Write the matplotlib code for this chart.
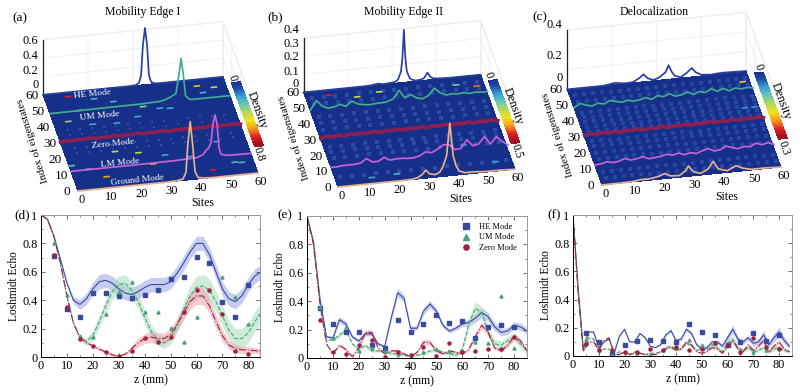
import numpy as np
import matplotlib
matplotlib.use('Agg')
import matplotlib.pyplot as plt
from matplotlib.colors import LinearSegmentedColormap
from mpl_toolkits.mplot3d import proj3d

plt.rcParams['font.family'] = ['Liberation Serif', 'DejaVu Serif']
plt.rcParams['grid.color'] = '#eeeeee'
plt.rcParams['grid.linewidth'] = 0.6

# ---- top row: density of the five modes along the sites
sites = np.arange(0, 61, 2)

he_a_s = [0, 29, 31, 32, 32.7, 33.3, 34, 34.7, 35.3, 36, 37, 39, 60]
he_a = [0, 0, 0.005, 0.03, 0.12, 0.5, 0.72, 0.5, 0.12, 0.03, 0.005, 0, 0]
um_a_s = [0, 10, 20, 30, 36, 38, 40, 42, 43, 43.7, 44.4, 45.2, 46.5, 48, 60]
um_a = [0.005, 0.007, 0.01, 0.012, 0.02, 0.03, 0.06, 0.1, 0.34, 0.54, 0.34, 0.06, 0.01, 0.005, 0.005]
lm_a_s = [0, 20, 35, 42, 44, 45, 46, 46.7, 47.3, 48, 48.7, 49.3, 50, 52, 60]
lm_a = [0.005, 0.005, 0.01, 0.02, 0.05, 0.1, 0.13, 0.2, 0.42, 0.54, 0.42, 0.12, 0.03, 0.01, 0.005]
gr_a_s = [0, 30, 33, 35, 36, 36.6, 37.4, 38.2, 39, 40, 42, 45, 60]
gr_a = [0, 0, 0.005, 0.02, 0.1, 0.45, 0.74, 0.45, 0.1, 0.02, 0.005, 0, 0]
zero_a = [0.01, 0.02, 0.01, 0.02, 0.015, 0.025, 0.01, 0.02, 0.015, 0.025, 0.01, 0.02, 0.015, 0.025, 0.01, 0.02,
          0.015, 0.025, 0.01, 0.02, 0.015, 0.025, 0.01, 0.02, 0.015, 0.025, 0.01, 0.02, 0.015, 0.025, 0.01]

he_b_s = [0, 20, 23, 25, 27, 29, 31, 32, 33, 33.5, 34, 34.5, 35, 36, 37, 38, 40, 41, 42, 43, 44, 46, 50, 60]
he_b = [0, 0, 0.002, 0.01, 0.002, 0.005, 0.01, 0.025, 0.08, 0.18, 0.39, 0.18, 0.08, 0.025, 0.012, 0.005,
        0.008, 0.02, 0.055, 0.02, 0.008, 0.003, 0, 0]
um_b = [0.01, 0.075, 0.03, 0.01, 0.015, 0.03, 0.01, 0.045, 0.02, 0.01, 0.005, 0.01, 0.01, 0.015, 0.03, 0.09,
        0.03, 0.05, 0.02, 0.01, 0.03, 0.08, 0.04, 0.02, 0.025, 0.02, 0.025, 0.015, 0.02, 0.015, 0.015]
zero_b = [0.01, 0.02, 0.012, 0.022, 0.01, 0.02, 0.012, 0.02, 0.012, 0.022, 0.01, 0.02, 0.012, 0.022, 0.01, 0.02,
          0.012, 0.022, 0.01, 0.02, 0.012, 0.022, 0.01, 0.02, 0.012, 0.022, 0.01, 0.02, 0.012, 0.02, 0.01]
lm_b = [0.005, 0.005, 0.01, 0.01, 0.01, 0.015, 0.045, 0.015, 0.015, 0.04, 0.015, 0.02, 0.02, 0.015, 0.015, 0.025,
        0.05, 0.04, 0.06, 0.09, 0.085, 0.045, 0.05, 0.11, 0.06, 0.07, 0.12, 0.06, 0.11, 0.07, 0.04]
gr_b_s = [0, 22, 25, 27, 28.5, 29.8, 31, 33, 34.5, 35.5, 36.8, 37.9, 39, 40, 41, 43, 46, 50, 55, 60]
gr_b = [0, 0, 0.002, 0.01, 0.03, 0.06, 0.03, 0.02, 0.035, 0.07, 0.15, 0.39, 0.15, 0.07, 0.03, 0.012, 0.012, 0.005, 0.005, 0]

he_c_s = [0, 12, 14, 16, 18, 20, 22, 24, 25.6, 27, 29, 31, 33, 34, 35, 36, 38, 40, 41.8, 43, 45, 48, 52, 60]
he_c = [0, 0, 0.005, 0.012, 0.005, 0.002, 0.005, 0.025, 0.05, 0.02, 0.005, 0.02, 0.05, 0.095, 0.05, 0.02, 0.005,
        0.03, 0.06, 0.03, 0.008, 0.003, 0.008, 0.003]
um_c = [0.005, 0.03, 0.015, 0.005, 0.02, 0.01, 0.03, 0.02, 0.01, 0.02, 0.01, 0.015, 0.025, 0.01, 0.03, 0.02,
        0.035, 0.015, 0.02, 0.035, 0.015, 0.03, 0.02, 0.04, 0.02, 0.035, 0.015, 0.03, 0.02, 0.025, 0.02]
zero_c = [0.012, 0.018, 0.01, 0.02, 0.012, 0.02, 0.01, 0.018, 0.012, 0.02, 0.01, 0.018, 0.012, 0.02, 0.01, 0.018,
          0.012, 0.02, 0.01, 0.018, 0.012, 0.02, 0.01, 0.018, 0.012, 0.02, 0.01, 0.018, 0.012, 0.02, 0.01]
lm_c = [0.005, 0.01, 0.02, 0.01, 0.015, 0.03, 0.015, 0.02, 0.03, 0.012, 0.015, 0.02, 0.03, 0.02, 0.03, 0.015,
        0.025, 0.015, 0.03, 0.04, 0.02, 0.025, 0.045, 0.03, 0.02, 0.03, 0.025, 0.045, 0.03, 0.04, 0.025]
gr_c_s = [0, 10, 13, 16, 19, 21, 23, 26, 28, 29, 30.5, 33, 35.5, 37.3, 39, 42, 45, 47, 50, 55, 60]
gr_c = [0, 0.002, 0.01, 0.01, 0.02, 0.035, 0.015, 0.012, 0.04, 0.07, 0.03, 0.012, 0.035, 0.085, 0.03, 0.012,
        0.04, 0.02, 0.005, 0.005, 0]

# bright spots on the floor: site, index, density
spots_a = [(7.9, 57.4, 0.7), (16, 54.5, 0.25), (21.8, 51.7, 0.25), (50.5, 56, 0.55), (51.7, 51.7, 0.25),
           (55.9, 54.3, 0.42), (9.5, 48.4, 0.35), (30.8, 46.9, 0.35), (36, 44.9, 0.22), (39.3, 44.3, 0.22),
           (5, 42.4, 0.35), (12.5, 39.3, 0.22), (20.4, 38.5, 0.22), (27.9, 41.2, 0.22), (16.5, 21.5, 0.42),
           (23.9, 19.4, 0.42), (32.2, 16.4, 0.22), (40, 14, 0.22), (50.4, 21.4, 0.22), (0.9, 15.6, 0.3),
           (5.9, 12.6, 0.22), (27.4, 11.8, 0.55), (53.8, 7.9, 0.25), (56, 7.4, 0.25), (45.9, 4.5, 0.7),
           (10.9, 6.9, 0.6)]
spots_b = [(7.9, 56.8, 0.45), (17, 54, 0.27), (24.8, 55.7, 0.27), (50.8, 55.2, 0.2), (57.3, 53.3, 0.4),
           (20.8, 4.4, 0.15), (12.2, 3.7, 0.13), (54.5, 5.8, 0.13), (46, 18, 0.12)]
spots_c = [(57.7, 54, 0.2), (55.3, 38, 0.07), (58.5, 38, 0.07)]

faint_sites_a = [4, 8, 12, 16, 20, 24, 28, 32, 36, 40, 44, 48, 52, 56]
faint_rows_a = [23, 26, 34, 37]
faint_sites_b = [2, 6, 10, 14, 18, 22, 26, 30, 34, 38, 42, 46, 50, 54, 58]
faint_rows_b = [6, 18, 22, 25, 36, 40, 44, 52, 56]
faint_sites_c = [2, 5, 8, 11, 14, 17, 20, 23, 26, 29, 32, 35, 38, 41, 44, 47, 50, 53, 56, 59]
faint_rows_c = [4, 8, 16, 20, 24, 27, 33, 36, 39, 42, 45, 52, 56]

# ---- bottom row: Loschmidt echo
z_d = np.arange(0, 85.1, 2.5)
he_d = [1, 0.97, 0.85, 0.69, 0.52, 0.40, 0.37, 0.41, 0.48, 0.53, 0.54, 0.52, 0.48, 0.45, 0.44, 0.46, 0.49, 0.51,
        0.51, 0.51, 0.53, 0.59, 0.66, 0.74, 0.80, 0.80, 0.72, 0.60, 0.48, 0.41, 0.39, 0.43, 0.51, 0.57, 0.60]
um_d = [1, 0.97, 0.85, 0.66, 0.43, 0.24, 0.13, 0.11, 0.15, 0.25, 0.36, 0.46, 0.51, 0.52, 0.47, 0.39, 0.28, 0.18,
        0.12, 0.10, 0.13, 0.22, 0.33, 0.43, 0.49, 0.50, 0.47, 0.39, 0.29, 0.19, 0.13, 0.13, 0.17, 0.25, 0.31]
zero_d = [1, 0.97, 0.85, 0.66, 0.43, 0.24, 0.14, 0.10, 0.08, 0.055, 0.035, 0.015, 0.005, 0.02, 0.06, 0.10, 0.13,
          0.14, 0.13, 0.13, 0.16, 0.23, 0.31, 0.39, 0.43, 0.43, 0.36, 0.25, 0.15, 0.085, 0.06, 0.05, 0.05, 0.045, 0.04]

z_e = np.arange(0, 85.1, 2.5)
he_e = [1, 0.82, 0.42, 0.15, 0.14, 0.27, 0.24, 0.15, 0.12, 0.17, 0.17, 0.10, 0.08, 0.28, 0.46, 0.42, 0.21, 0.21,
        0.33, 0.38, 0.33, 0.23, 0.19, 0.21, 0.24, 0.25, 0.28, 0.32, 0.29, 0.22, 0.18, 0.19, 0.23, 0.22, 0.19]
um_e = [1, 0.80, 0.40, 0.12, 0.13, 0.16, 0.20, 0.10, 0.06, 0.09, 0.05, 0.05, 0.05, 0.03, 0.03, 0.02, 0.01, 0.02,
        0.03, 0.05, 0.06, 0.04, 0.03, 0.02, 0.06, 0.24, 0.35, 0.32, 0.18, 0.10, 0.09, 0.12, 0.15, 0.10, 0.05]
zero_e = [1, 0.80, 0.38, 0.10, 0.03, 0.09, 0.06, 0.01, 0.07, 0.18, 0.18, 0.07, 0.03, 0.05, 0.05, 0.03, 0.01, 0.04,
          0.11, 0.11, 0.05, 0.03, 0.05, 0.04, 0.03, 0.06, 0.15, 0.23, 0.18, 0.07, 0.05, 0.09, 0.15, 0.12, 0.05]

z_f = np.arange(0, 84.1, 2)
he_f = [1, 0.48, 0.05, 0.17, 0.17, 0.06, 0.10, 0.12, 0.02, 0.14, 0.19, 0.10, 0.10, 0.16, 0.13, 0.07, 0.06, 0.08,
        0.15, 0.18, 0.11, 0.12, 0.19, 0.16, 0.08, 0.05, 0.06, 0.10, 0.10, 0.07, 0.13, 0.19, 0.12, 0.10, 0.13, 0.09,
        0.10, 0.15, 0.08, 0.13, 0.17, 0.11, 0.07]
um_f = [1, 0.45, 0.04, 0.13, 0.12, 0.04, 0.05, 0.05, 0.01, 0.03, 0.02, 0.01, 0.03, 0.02, 0.01, 0.02, 0.02, 0.03,
        0.06, 0.07, 0.05, 0.05, 0.09, 0.07, 0.04, 0.05, 0.04, 0.08, 0.06, 0.03, 0.09, 0.12, 0.06, 0.04, 0.06, 0.03,
        0.04, 0.06, 0.03, 0.05, 0.06, 0.04, 0.03]
zero_f = [1, 0.45, 0.03, 0.10, 0.10, 0.04, 0.11, 0.13, 0.01, 0.01, 0.03, 0.01, 0.02, 0.02, 0.01, 0.01, 0.01, 0.03,
          0.05, 0.06, 0.04, 0.05, 0.10, 0.08, 0.03, 0.02, 0.03, 0.06, 0.05, 0.02, 0.07, 0.11, 0.05, 0.03, 0.08, 0.04,
          0.07, 0.11, 0.03, 0.07, 0.10, 0.05, 0.03]

# half width of the shaded bands
he_band_d = [0, 0, 0, 0, 0.01, 0.025, 0.035, 0.04, 0.045, 0.05, 0.05, 0.05, 0.05, 0.05, 0.05, 0.05, 0.05, 0.05,
             0.05, 0.05, 0.05, 0.05, 0.05, 0.05, 0.05, 0.05, 0.05, 0.05, 0.05, 0.05, 0.05, 0.05, 0.05, 0.05, 0.05]
um_band_d = [0, 0, 0, 0, 0, 0.005, 0.015, 0.025, 0.035, 0.04, 0.05, 0.055, 0.06, 0.06, 0.06, 0.05, 0.05, 0.05,
             0.04, 0.04, 0.04, 0.05, 0.06, 0.07, 0.08, 0.08, 0.08, 0.07, 0.07, 0.07, 0.07, 0.07, 0.07, 0.07, 0.07]
zero_band_d = [0, 0, 0, 0, 0, 0.005, 0.01, 0.01, 0.01, 0.01, 0.01, 0.01, 0.005, 0.01, 0.02, 0.03, 0.035, 0.04,
               0.04, 0.04, 0.04, 0.045, 0.05, 0.055, 0.06, 0.06, 0.05, 0.045, 0.04, 0.03, 0.03, 0.025, 0.025, 0.02, 0.02]
he_band_e = [0, 0, 0.005, 0.01, 0.015, 0.02, 0.02, 0.015, 0.012, 0.015, 0.015, 0.01, 0.01, 0.02, 0.03, 0.025, 0.015,
             0.015, 0.025, 0.025, 0.02, 0.015, 0.015, 0.015, 0.02, 0.025, 0.03, 0.035, 0.03, 0.03, 0.025, 0.025, 0.025, 0.025, 0.02]
um_band_e = [0, 0, 0, 0.005, 0.01, 0.015, 0.015, 0.01, 0.01, 0.01, 0.01, 0.01, 0.01, 0.008, 0.008, 0.008, 0.008, 0.01,
             0.01, 0.012, 0.012, 0.012, 0.012, 0.015, 0.02, 0.035, 0.045, 0.045, 0.035, 0.03, 0.03, 0.03, 0.03, 0.03, 0.025]
zero_band_e = [0, 0, 0, 0.005, 0.008, 0.012, 0.01, 0.008, 0.012, 0.02, 0.02, 0.012, 0.008, 0.01, 0.01, 0.008, 0.006, 0.01,
               0.02, 0.02, 0.01, 0.008, 0.01, 0.01, 0.008, 0.012, 0.02, 0.025, 0.02, 0.012, 0.012, 0.015, 0.02, 0.02, 0.012]
he_band_f = [0, 0, 0.002, 0.004, 0.004, 0.003, 0.004, 0.004, 0.003, 0.005, 0.006, 0.005, 0.005, 0.006, 0.006, 0.005,
             0.005, 0.006, 0.01, 0.012, 0.01, 0.012, 0.015, 0.012, 0.01, 0.008, 0.01, 0.015, 0.015, 0.015, 0.025, 0.03,
             0.02, 0.015, 0.02, 0.02, 0.025, 0.03, 0.02, 0.03, 0.035, 0.025, 0.015]
um_band_f = [0, 0, 0.002, 0.005, 0.005, 0.003, 0.003, 0.003, 0.002, 0.003, 0.003, 0.002, 0.003, 0.003, 0.002, 0.003,
             0.003, 0.004, 0.006, 0.008, 0.006, 0.008, 0.012, 0.01, 0.008, 0.008, 0.008, 0.012, 0.012, 0.01, 0.02, 0.025,
             0.015, 0.012, 0.015, 0.012, 0.012, 0.015, 0.012, 0.015, 0.015, 0.012, 0.01]
zero_band_f = [0, 0, 0.002, 0.004, 0.004, 0.003, 0.004, 0.004, 0.002, 0.002, 0.002, 0.002, 0.002, 0.002, 0.002, 0.002,
               0.002, 0.004, 0.005, 0.006, 0.005, 0.006, 0.01, 0.008, 0.005, 0.005, 0.005, 0.008, 0.008, 0.006, 0.012, 0.015,
               0.01, 0.008, 0.012, 0.01, 0.012, 0.015, 0.008, 0.012, 0.015, 0.01, 0.008]

z_pts = [5, 10, 15, 20, 25, 30, 35, 40, 45, 50, 55, 60, 65, 70, 75, 80]
he_pts_d = [0.71, 0.34, 0.285, 0.45, 0.45, 0.43, 0.415, 0.435, 0.47, 0.55, 0.565, 0.705, 0.66, 0.385, 0.28, 0.51]
um_pts_d = [0.80, 0.44, 0.15, 0.14, 0.30, 0.46, 0.53, 0.32, 0.32, 0.205, 0.105, 0.28, 0.47, 0.56, 0.42, 0.235]
zero_pts_d = [0.72, 0.355, 0.125, 0.08, 0.035, 0.005, 0.04, 0.135, 0.105, 0.14, 0.32, 0.475, 0.47, 0.305, 0.04, 0.02]
he_pts_e = [0.35, 0.24, 0.18, 0.185, 0.09, 0.07, 0.27, 0.185, 0.24, 0.305, 0.245, 0.26, 0.14, 0.22, 0.23, 0.215]
um_pts_e = [0.36, 0.14, 0.22, 0.05, 0.07, 0.05, 0.03, 0.01, 0.04, 0.06, 0.05, 0.05, 0.11, 0.105, 0.44, 0.07]
zero_pts_e = [0.27, 0.04, 0.03, 0.09, 0.125, 0.01, 0.045, 0.02, 0.075, 0.015, 0.105, 0.04, 0.05, 0.065, 0.065, 0.15]
he_pts_f = [0.164, 0.10, 0.012, 0.08, 0.105, 0.11, 0.105, 0.097, 0.23, 0.168, 0.15, 0.08, 0.097, 0.164, 0.105, 0.147]
um_pts_f = [0.12, 0.04, 0.01, 0.03, 0.02, 0.01, 0.04, 0.06, 0.11, 0.08, 0.09, 0.09, 0.03, 0.03, 0.04, 0.06]
zero_pts_f = [0.085, 0.04, 0.045, 0.025, 0.025, 0.05, 0.04, 0.065, 0.045, 0.05, 0.09, 0.08, 0.03, 0.13, 0.065, 0.05]

mode_names = ['HE Mode', 'UM Mode', 'Zero Mode', 'LM Mode', 'Ground Mode']
mode_rows = [60, 48, 30, 12, 0]
tick_vals = [0, 10, 20, 30, 40, 50, 60]

density = LinearSegmentedColormap.from_list(
    'density', ['#182a84', '#1f4fa8', '#3aa0d8', '#6cc8b0', '#b8d850', '#f5e020', '#f59a20', '#e02020', '#a01020'])
line_cols = ['#2b3f9e', '#3fae8c', '#8e1f4e', '#c860d8', '#e8b08c']
echo_cols = ['#3a4a9f', '#4da078', '#a02040']
band_cols = ['#9aa5e6', '#a5dcb8', '#f0a0a8']

fig = plt.figure(figsize=(8, 3.92), dpi=100)


def place_floor(ax, fl, fr):
    # move and scale the 3d axes so the front edge of the floor lands on the given pixels
    fig.canvas.draw()
    M = ax.get_proj()
    a = ax.transData.transform(proj3d.proj_transform(0, 0, 0, M)[:2])
    b = ax.transData.transform(proj3d.proj_transform(60, 0, 0, M)[:2])
    box = ax.get_position()
    x0, y0 = box.x0 * 800, box.y0 * 392
    w, h = box.width * 800, box.height * 392
    scale = np.hypot(fr[0] - fl[0], fr[1] - fl[1]) / np.hypot(*(b - a))
    fx, fy = (a[0] - x0) / w, (a[1] - y0) / h
    nw, nh = w * scale, h * scale
    nx, ny = fl[0] - fx * nw, (392 - fl[1]) - fy * nh
    ax.set_position([nx / 800, ny / 392, nw / 800, nh / 392])
    fig.canvas.draw()


def label3d(ax, x, y, z, s, **kw):
    # real text at the spot where a 3d point ends up on the figure
    p = ax.transData.transform(proj3d.proj_transform(x, y, z, ax.get_proj())[:2])
    kw.setdefault('ha', 'center')
    kw.setdefault('va', 'center')
    fig.text(p[0] / 800, p[1] / 392, s, rotation_mode='anchor', **kw)


def top_panel(left, curves, spots, faint, faint_col, vmax, zmax, ztop_ratio, zlabels, zlabel_pos, fl, fr,
              bar, bar_lbl, bar_txt):
    ax = fig.add_axes([left, 0.3, 0.3, 0.3 * 800 / 392], projection='3d', proj_type='ortho')
    ax.computed_zorder = False
    ax.set_facecolor('none')
    ax.view_init(elev=31.6, azim=-100.8)
    ax.set_xlim(0, 60, view_margin=0)
    ax.set_ylim(0, 60, view_margin=0)
    ax.set_zlim(0, zmax, view_margin=0)
    ax.set_box_aspect((1, 1.02, ztop_ratio))
    ax.set_xticks([0, 15, 30, 45, 60])
    ax.set_yticks([0, 15, 30, 45, 60])
    ax.set_zticks(np.linspace(0, zmax, 4))
    ax.set_xticklabels([])
    ax.set_yticklabels([])
    ax.set_zticklabels([])
    for axis in (ax.xaxis, ax.yaxis, ax.zaxis):
        axis.set_pane_color((1, 1, 1, 1))
        axis.pane.set_edgecolor('#eeeeee')
        axis.line.set_color((0, 0, 0, 0))
        axis.set_tick_params(length=0)
        axis._axinfo['tick']['inward_factor'] = 0
        axis._axinfo['tick']['outward_factor'] = 0

    X, Y = np.meshgrid([0, 60], [0, 60])
    ax.plot_surface(X, Y, np.zeros_like(X, dtype=float), color='#16308a', shade=False, zorder=1,
                    linewidth=0, antialiased=False)

    fs, fr_ = np.meshgrid(faint[0], faint[1])
    ax.scatter(fs.ravel(), fr_.ravel(), 0, marker='s', s=faint[2], color=faint_col, linewidths=0,
               depthshade=False, zorder=2)

    for s, r, v in spots:
        ax.plot([s - 0.9, s + 0.9], [r, r], [0, 0], color=density(v / vmax), lw=1.2, solid_capstyle='round', zorder=3)

    for (cs, cv), row, col in zip(curves, mode_rows, line_cols):
        lw = 2.6 if col == line_cols[2] else 1.25
        ax.plot(cs, np.full(len(cs), row), cv, color=col, lw=lw, zorder=5)

    # colour bar lying on the floor plane
    by = np.linspace(bar[2], bar[3], 60)
    BX, BY = np.meshgrid(bar[:2], by)
    shade = np.repeat((bar[3] - by[:, None]) / (bar[3] - bar[2]), 2, axis=1)
    ax.plot_surface(BX, BY, np.zeros_like(BX), facecolors=density(shade), shade=False, linewidth=0,
                    antialiased=False, zorder=2)
    ax.plot([0, 0], [60, 60], [0, zmax], color='#222222', lw=0.9, zorder=4)

    place_floor(ax, fl, fr)

    label3d(ax, bar_txt[0], bar_txt[1], 0, '0', rotation=-72, fontsize=8.5)
    label3d(ax, bar_txt[2], bar_txt[3], 0, bar_lbl, rotation=-72, fontsize=8.5)
    label3d(ax, bar_txt[4], bar_txt[5], 0, 'Density', rotation=-70, fontsize=9)
    for t in tick_vals:
        label3d(ax, t, -5.5, 0, str(t), fontsize=9)
        label3d(ax, -3.6, t, 0, str(t), fontsize=9.5)
    for lab, zp in zip(zlabels, zlabel_pos):
        label3d(ax, -1.5, 60, zp, lab, ha='right', fontsize=9)
    label3d(ax, 38.8, -14.8, 0, 'Sites', fontsize=8.5)
    label3d(ax, -8.6, 33, 0, 'Index of eigenstates', rotation=107, fontsize=7.8)
    return ax


axa = top_panel(0.0, [(he_a_s, he_a), (um_a_s, um_a), (sites, zero_a), (lm_a_s, lm_a), (gr_a_s, gr_a)],
                spots_a, (faint_sites_a, faint_rows_a, 2.5), '#2a4fa5', 0.8, 0.7, 0.353,
                ['0', '0.2', '0.4', '0.6'], [0.127, 0.305, 0.496, 0.687], (78, 191), (258, 173),
                (62, 65, 16, 56), '0.8', (62.7, 58.5, 62.5, 11, 67, 38))
floor_lbl = [(15.9, 57.6), (15.9, 43.9), (16.8, 26.2), (16.8, 14.4), (20.3, 3.1)]
for name, (lx, ly) in zip(mode_names, floor_lbl):
    label3d(axa, lx, ly, 0, name, color='white', fontsize=6.8, rotation=6)

top_panel(0.33, [(he_b_s, he_b), (sites, um_b), (sites, zero_b), (sites, lm_b), (gr_b_s, gr_b)],
          spots_b, (faint_sites_b, faint_rows_b, 8), '#2a4ca8', 0.5, 0.4, 0.352,
          ['0', '0.1', '0.2', '0.3', '0.4'], [0.067, 0.155, 0.264, 0.365, 0.467], (338, 187), (515, 169),
          (61.8, 64.8, 16, 56), '0.5', (62.6, 59.6, 62.8, 10.8, 66.8, 38.5))

top_panel(0.66, [(he_c_s, he_c), (sites, um_c), (sites, zero_c), (sites, lm_c), (gr_c_s, gr_c)],
          spots_c, (faint_sites_c, faint_rows_c, 6), '#2647a3', 0.3, 0.4, 0.382,
          ['0', '0.2', '0.4'], [0.08, 0.23, 0.435], (602, 185), (781, 168),
          (62.5, 65.5, 17, 58.6), '0.3', (64.4, 62, 63.3, 11.6, 67.9, 40))


def echo_panel(box, z, curves, pts, bands, xmax):
    ax = fig.add_axes([box[0] / 800, 1 - box[3] / 392, (box[2] - box[0]) / 800, (box[3] - box[1]) / 392])
    markers = ['s', '^', 'o']
    styles = ['-', '--', '-.']
    for y, b, col, bcol, ls in zip(curves, bands, echo_cols, band_cols, styles):
        y = np.array(y)
        width = np.array(b)
        ax.fill_between(z, np.maximum(y - width, 0), y + width, color=bcol, alpha=0.55, linewidth=0)
        ax.plot(z, y, color=col, lw=0.8, ls=ls)
    for p, col, m, name in zip(pts, echo_cols, markers, mode_names):
        ax.plot(z_pts, p, ls='none', marker=m, ms=2.2, color=col, label=name)
    ax.set_xlim(0, xmax)
    ax.set_ylim(0, 1)
    ax.set_xticks(range(0, 81, 10))
    ax.set_xticks(range(5, 85, 10), minor=True)
    ax.set_yticks([0, 0.2, 0.4, 0.6, 0.8, 1])
    ax.set_yticklabels(['0', '0.2', '0.4', '0.6', '0.8', '1'])
    ax.set_yticks(np.arange(0.1, 1, 0.2), minor=True)
    ax.tick_params(direction='in', top=True, right=True, labelsize=8.8, length=3, width=0.6, pad=2.5, color='#555555')
    ax.tick_params(which='minor', direction='in', top=True, right=True, length=1.5, width=0.5, color='#555555')
    for side in ('top', 'right'):
        ax.spines[side].set_color('#999999')
    for sp in ax.spines.values():
        sp.set_linewidth(0.7)
    ax.set_xlabel('z (mm)', fontsize=8.5, labelpad=1)
    ax.set_ylabel('Loshmidt Echo', fontsize=8.3, labelpad=1.5)
    return ax


echo_panel((41, 215, 260, 357), z_d, [he_d, um_d, zero_d], [he_pts_d, um_pts_d, zero_pts_d],
           [he_band_d, um_band_d, zero_band_d], 84.5)
axe = echo_panel((307, 216, 527, 358), z_e, [he_e, um_e, zero_e], [he_pts_e, um_pts_e, zero_pts_e],
                 [he_band_e, um_band_e, zero_band_e], 85)
echo_panel((573, 215, 792, 356), z_f, [he_f, um_f, zero_f], [he_pts_f, um_pts_f, zero_pts_f],
           [he_band_f, um_band_f, zero_band_f], 85)
axe.legend(loc='upper right', bbox_to_anchor=(0.98, 0.995), frameon=False, fontsize=6.0, handletextpad=0.5,
           labelspacing=0.35, borderpad=0.2, markerscale=1.7)

titles = [('Mobility Edge I', 143), ('Mobility Edge II', 403), ('Delocalization', 654)]
for text, px in titles:
    fig.text(px / 800, 1 - 12 / 392, text, ha='center', va='center', fontsize=8.5)
panel_lbl = [('(a)', 20, 18), ('(b)', 275, 17), ('(c)', 540, 17), ('(d)', 22, 215), ('(e)', 285, 215), ('(f)', 554, 215)]
for text, px, py in panel_lbl:
    fig.text(px / 800, 1 - py / 392, text, ha='center', va='center', fontsize=9.5)

plt.savefig('out.png', dpi=100)
